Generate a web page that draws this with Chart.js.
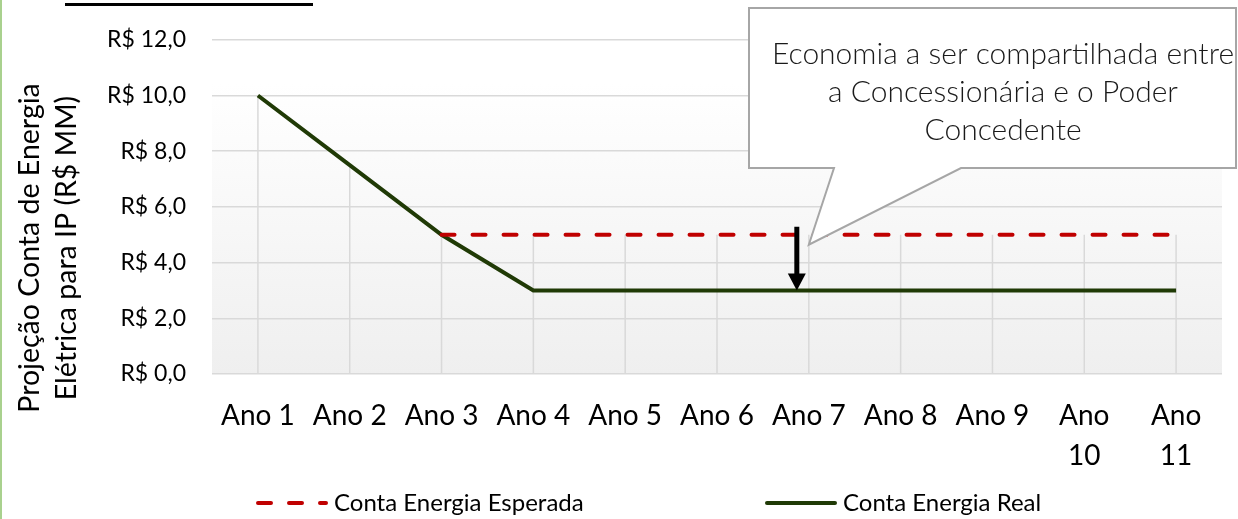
<!DOCTYPE html>
<html>
<head>
<meta charset="utf-8">
<script src="https://cdn.jsdelivr.net/npm/chart.js@4.4.1/dist/chart.umd.min.js"></script>
<style>
    html, body { margin: 0; padding: 0; background: #fff; }
    #wrap { width: 1238px; height: 519px; position: relative; }
</style>
</head>
<body>
<div id="wrap"><canvas id="chartCanvas"></canvas></div>
<script>
// === Dados ===
const anos = ["Ano 1", "Ano 2", "Ano 3", "Ano 4", "Ano 5", "Ano 6", "Ano 7", "Ano 8", "Ano 9", ["Ano", "10"], ["Ano", "11"]];
const contaEsperada = [null, null, 5, 5, 5, 5, 5, 5, 5, 5, 5];
const contaReal = [10, 7.5, 5, 3, 3, 3, 3, 3, 3, 3, 3];
const yTicks = [0, 2, 4, 6, 8, 10, 12];
const yTitle = ["Projeção Conta de Energia", "Elétrica para IP (R$ MM)"];
const calloutLines = ["Economia a ser compartilhada entre", "a Concessionária e o Poder", "Concedente"];

const FONT = "Lato, 'Open Sans', sans-serif";
Chart.defaults.font.family = FONT;
Chart.defaults.color = "#000";

// === Fundo, linhas de queda, seta, balão e legenda ===
const decor = {
    id: "decor",
    beforeDraw(chart) {
        const { ctx, chartArea: a } = chart;
        ctx.save();
        const top = a.top + 44;
        const g = ctx.createLinearGradient(0, top, 0, a.bottom);
        g.addColorStop(0, "#ffffff");
        g.addColorStop(1, "#efefef");
        ctx.fillStyle = g;
        ctx.fillRect(a.left, top, a.right - a.left, a.bottom - top);

        // borda verde e traço preto no topo
        ctx.fillStyle = "#a9d18e";
        ctx.fillRect(0, 0, 2, chart.height);
        ctx.fillStyle = "#000";
        ctx.fillRect(65, 3, 248, 3);

        // título do eixo Y (duas linhas, giradas)
        ctx.translate(0, 248);
        ctx.rotate(-Math.PI / 2);
        ctx.font = "28.5px " + FONT;
        ctx.textAlign = "center";
        ctx.textBaseline = "middle";
        ctx.fillText(yTitle[0], 0, 30);
        ctx.fillText(yTitle[1], 0, 67);
        ctx.restore();
    },
    beforeDatasetsDraw(chart) {
        const { ctx } = chart;
        const x = chart.scales.x, y = chart.scales.y;
        ctx.save();
        ctx.strokeStyle = "#d9d9d9";
        ctx.lineWidth = 1.5;
        anos.forEach((_, i) => {
            const vals = chart.data.datasets.map(d => d.data[i]).filter(v => v != null);
            const px = x.getPixelForValue(i);
            ctx.beginPath();
            ctx.moveTo(px, y.getPixelForValue(Math.max(...vals)));
            ctx.lineTo(px, y.getPixelForValue(0));
            ctx.stroke();
        });
        ctx.restore();
    },
    afterDraw(chart) {
        const { ctx } = chart;
        const x = chart.scales.x, y = chart.scales.y;
        ctx.save();

        // seta de economia (Ano 7)
        const ax = x.getPixelForValue(6) - 12;
        const aTop = y.getPixelForValue(contaEsperada[6]) - 8;
        const aTip = y.getPixelForValue(contaReal[6]);
        ctx.fillStyle = "#000";
        ctx.fillRect(ax - 2.5, aTop, 5, aTip - aTop - 15);
        ctx.beginPath();
        ctx.moveTo(ax - 9, aTip - 17);
        ctx.lineTo(ax + 9, aTip - 17);
        ctx.lineTo(ax, aTip);
        ctx.closePath();
        ctx.fill();

        // balão
        const tipX = x.getPixelForValue(6);
        const tipY = y.getPixelForValue(contaEsperada[6]) + 10;
        ctx.beginPath();
        ctx.moveTo(749, 8);
        ctx.lineTo(1236, 8);
        ctx.lineTo(1236, 168);
        ctx.lineTo(961, 168);
        ctx.lineTo(tipX, tipY);
        ctx.lineTo(834, 168);
        ctx.lineTo(749, 168);
        ctx.closePath();
        ctx.fillStyle = "#fff";
        ctx.fill();
        ctx.strokeStyle = "#a6a6a6";
        ctx.lineWidth = 2;
        ctx.stroke();

        ctx.fillStyle = "#1a1a1a";
        ctx.font = "300 30px " + FONT;
        ctx.textAlign = "center";
        ctx.textBaseline = "middle";
        calloutLines.forEach((t, i) => ctx.fillText(t, 1003, 54 + i * 38));

        // legenda
        const items = [{ x: 258, ds: chart.data.datasets[0] }, { x: 767, ds: chart.data.datasets[1] }];
        const ly = 503;
        items.forEach(it => {
            ctx.strokeStyle = it.ds.borderColor;
            ctx.lineWidth = 4;
            ctx.lineCap = "round";
            ctx.setLineDash(it.ds.borderDash || []);
            ctx.beginPath();
            ctx.moveTo(it.x, ly);
            ctx.lineTo(it.x + 68, ly);
            ctx.stroke();
            ctx.setLineDash([]);
            ctx.fillStyle = "#000";
            ctx.font = "24px " + FONT;
            ctx.textAlign = "left";
            ctx.fillText(it.ds.label, it.x + 76, ly);
        });
        ctx.restore();
    }
};

// === Gráfico ===
const ctx = document.getElementById("chartCanvas").getContext("2d");
new Chart(ctx, {
    type: "line",
    data: {
        labels: anos,
        datasets: [
            {
                label: "Conta Energia Esperada",
                data: contaEsperada,
                borderColor: "#c00000",
                borderWidth: 4,
                borderDash: [13, 18],
                borderCapStyle: "round",
                pointRadius: 0,
                fill: false
            },
            {
                label: "Conta Energia Real",
                data: contaReal,
                borderColor: "#203a06",
                borderWidth: 4,
                pointRadius: 0,
                fill: false
            }
        ]
    },
    options: {
        responsive: true,
        maintainAspectRatio: false,
        animation: false,
        layout: { padding: { top: 37, right: 16, left: 0, bottom: 0 } },
        plugins: { legend: { display: false }, tooltip: { enabled: false } },
        scales: {
            x: {
                offset: true,
                grid: { display: false },
                border: { display: false },
                ticks: {
                    font: { size: 28, lineHeight: 1.43 },
                    maxRotation: 0,
                    autoSkip: false,
                    padding: 14
                },
                afterFit: s => { s.height = 145; }
            },
            y: {
                min: 0,
                max: 12,
                afterBuildTicks: s => { s.ticks = yTicks.map(v => ({ value: v })); },
                grid: { color: "#d9d9d9", lineWidth: 1.5, drawTicks: false },
                border: { display: false },
                ticks: {
                    font: { size: 23 },
                    padding: 26,
                    callback: v => "R$ " + v.toFixed(1).replace(".", ",")
                },
                afterFit: s => { s.width = 212; }
            }
        }
    },
    plugins: [decor]
});
</script>
</body>
</html>
